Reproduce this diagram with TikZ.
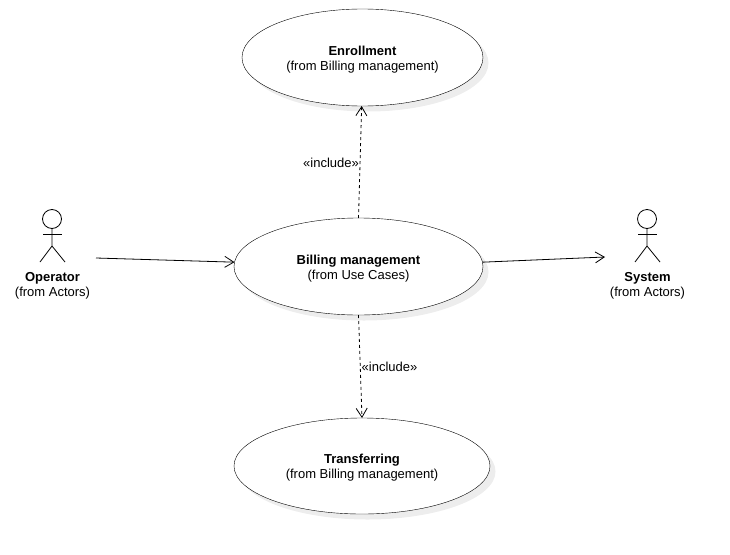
\documentclass[tikz,border=0pt]{standalone}
\usepackage{fontspec}
\setmainfont{Liberation Sans}
\usetikzlibrary{arrows.meta,shapes.geometric}
\newcommand{\usecasetext}[2]{\rule{0pt}{13pt}\textbf{#1}\\#2}
\tikzset{
usecase/.style={draw=black,fill=white,ellipse,inner sep=0pt,outer sep=0pt,align=center,font=\fontsize{13}{15}\selectfont,preaction={fill=black!7,draw=none,transform canvas={shift={(5.5pt,-5.5pt)}}}},
actorname/.style={inner sep=0pt,align=center,font=\fontsize{13}{15}\selectfont},
relation/.style={draw=black,line width=0.8pt,-{Straight Barb[length=9pt,width=11pt]}},
includes/.style={relation,dash pattern=on 3pt off 3pt},
stereotype/.style={inner sep=0pt,font=\fontsize{13}{15}\selectfont},
stick/.style={draw=black,line width=0.8pt}
}

\begin{document}
\begin{tikzpicture}[x=1pt,y=-1pt]
\useasboundingbox (0,0) rectangle (730,554);

\node[usecase,minimum width=241pt,minimum height=97pt] (enrollment) at (362.5,57.5) {\usecasetext{Enrollment}{(from Billing management)}};
\node[usecase,minimum width=249pt,minimum height=97pt] (billing) at (358.5,266.5) {\usecasetext{Billing management}{(from Use Cases)}};
\node[usecase,minimum width=256pt,minimum height=96pt] (transferring) at (362,466) {\usecasetext{Transferring}{(from Billing management)}};

\draw[stick] (52,219) circle(9.5pt);
\draw[stick] (52,228.5) -- ++(0,17.5) -- ++(-12,16);
\draw[stick] (52,246) -- ++(13,16);
\draw[stick] (43,234) -- ++(19,0);
\node[actorname] (operator) at (52.5,285.5) {\textbf{Operator}\\(from Actors)};

\draw[stick] (647,219) circle(9.5pt);
\draw[stick] (647,228.5) -- ++(0,17.5) -- ++(-12,16);
\draw[stick] (647,246) -- ++(13,16);
\draw[stick] (638,234) -- ++(19,0);
\node[actorname] (system) at (647.5,285.5) {\textbf{System}\\(from Actors)};

\coordinate (operatorout) at (96,258);
\coordinate (systemin) at (605,257);

\draw[relation] (operatorout) -- (billing.178.4);
\draw[relation] (billing.2) -- (systemin);
\draw[includes] (billing.north) -- (enrollment.-91);
\draw[includes] (billing.south) -- (transferring.90.5);

\node[stereotype] (includeup) at (331,163) {«include»};
\node[stereotype] (includedown) at (389.5,367) {«include»};

\end{tikzpicture}
\end{document}
